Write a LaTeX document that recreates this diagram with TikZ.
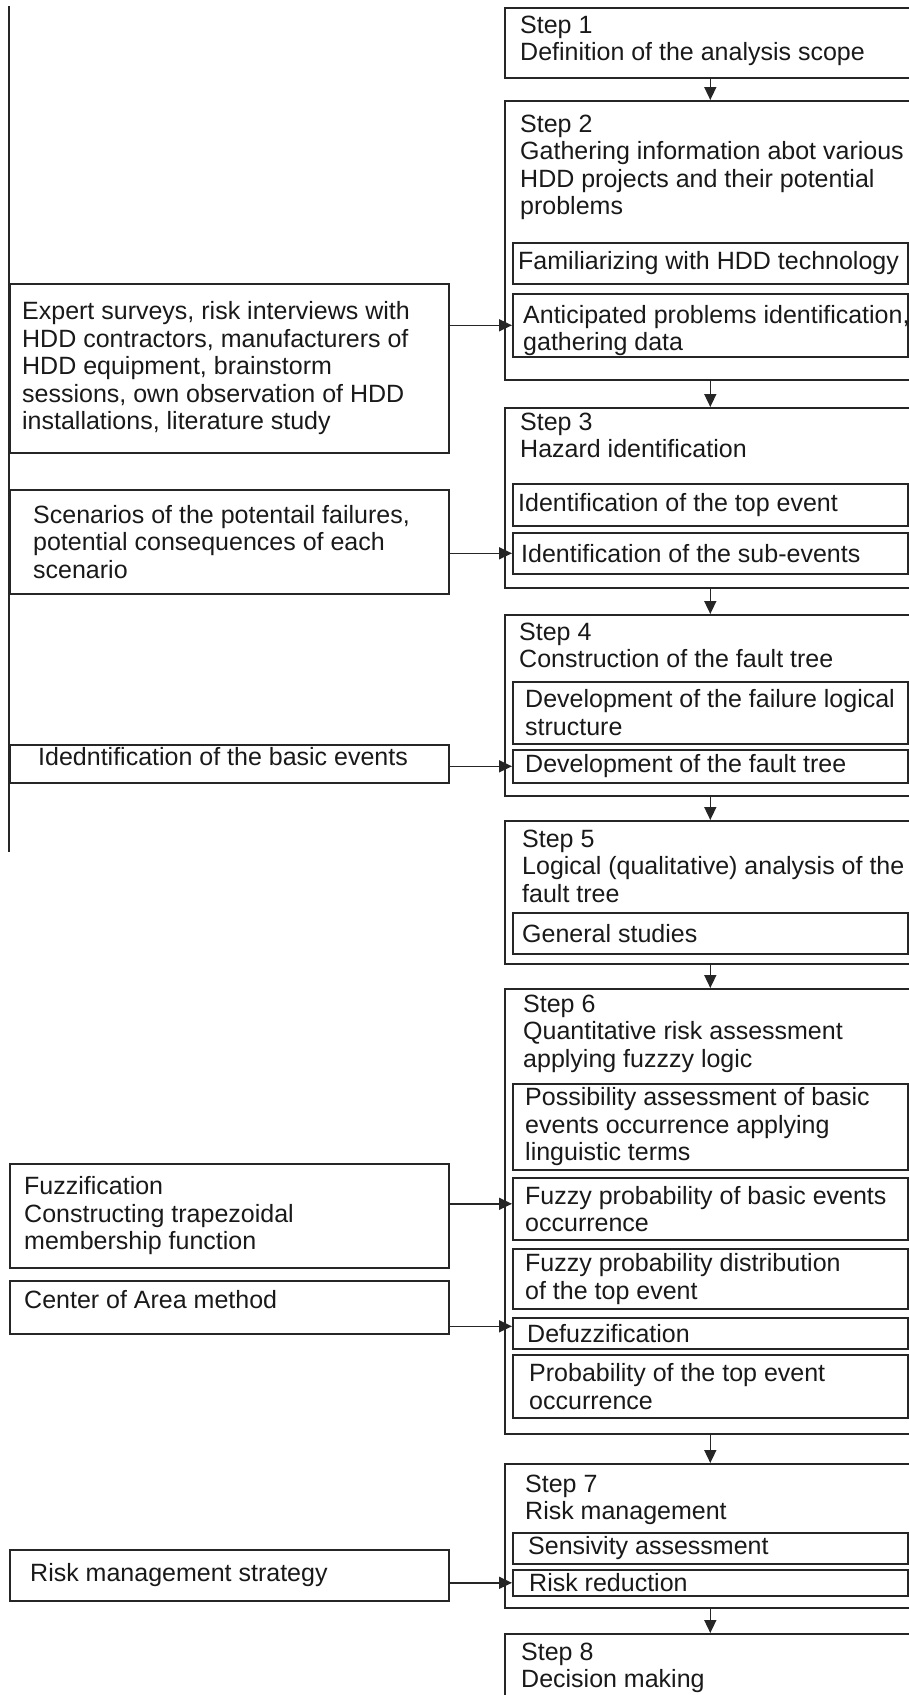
\documentclass[tikz,border=0pt]{standalone}
\usepackage{fontspec}
\setmainfont{Liberation Sans}
\usepackage{tikz}
\usetikzlibrary{arrows.meta,positioning}

\tikzset{
	boxline/.style={line width=1.6pt, draw=black!85},
	stepbox/.style={boxline, anchor=north west, minimum width=411pt, inner sep=0pt},
	subbox/.style={boxline, anchor=north west, minimum width=395pt, inner sep=0pt},
	sidebox/.style={boxline, anchor=north west, minimum width=439pt, inner sep=0pt},
	txt/.style={inner sep=0pt, align=left, text=black!90, font=\fontsize{25}{27.5}\selectfont},
	arr/.style={boxline, -{Triangle[length=13pt,width=12pt]}}
}

\begin{document}
\begin{tikzpicture}[x=1pt,y=-1pt]
		\useasboundingbox (0,0) rectangle (909,1695);
		\clip (0,0) rectangle (909,1695);
		
		% steps
		\node[stepbox, minimum height=70pt]  (step1) at (504,7) {};
		\node[stepbox, minimum height=279pt] (step2) at (504,100) {};
		\node[stepbox, minimum height=180pt] (step3) at (504,407) {};
		\node[stepbox, minimum height=181pt] (step4) at (504,614) {};
		\node[stepbox, minimum height=143pt] (step5) at (504,820) {};
		\node[stepbox, minimum height=445pt] (step6) at (504,988) {};
		\node[stepbox, minimum height=144pt] (step7) at (504,1463) {};
		\node[stepbox, minimum height=100pt] (step8) at (504,1633) {};
		
		\node[txt, below right=8.5pt and 16pt of step1.north west] (head1) {Step 1\\Definition of the analysis scope};
		\node[txt, below right=14.5pt and 16pt of step2.north west] (head2) {Step 2\\Gathering information abot various\\HDD projects and their potential\\problems};
		\node[txt, below right=5.5pt and 16pt of step3.north west] (head3) {Step 3\\Hazard identification};
		\node[txt, below right=8.5pt and 15pt of step4.north west] (head4) {Step 4\\Construction of the fault tree};
		\node[txt, below right=9.5pt and 18pt of step5.north west] (head5) {Step 5\\Logical (qualitative) analysis of the\\fault tree};
		\node[txt, below right=6.5pt and 19pt of step6.north west] (head6) {Step 6\\Quantitative risk assessment\\applying fuzzzy logic};
		\node[txt, below right=11.5pt and 21pt of step7.north west] (head7) {Step 7\\Risk management};
		\node[txt, below right=9.5pt and 17pt of step8.north west] (head8) {Step 8\\Decision making};
		
		% boxes inside the steps
		\node[subbox, minimum height=41pt] (fam)    at (512,242) {};
		\node[subbox, minimum height=63pt] (antic)  at (512,293) {};
		\node[subbox, minimum height=42pt] (topev)  at (512,483) {};
		\node[subbox, minimum height=41pt] (subev)  at (512,532) {};
		\node[subbox, minimum height=62pt] (logic)  at (512,681) {};
		\node[subbox, minimum height=33pt] (ftree)  at (512,749) {};
		\node[subbox, minimum height=41pt] (gen)    at (512,912) {};
		\node[subbox, minimum height=86pt] (poss)   at (512,1083) {};
		\node[subbox, minimum height=62pt] (fprob)  at (512,1177) {};
		\node[subbox, minimum height=60pt] (fdist)  at (512,1248) {};
		\node[subbox, minimum height=31pt] (defuzz) at (512,1317) {};
		\node[subbox, minimum height=63pt] (ptop)   at (512,1354) {};
		\node[subbox, minimum height=31pt] (sens)   at (512,1532) {};
		\node[subbox, minimum height=26pt] (reduc)  at (512,1569) {};
		
		\node[txt, right=6pt of fam.west] (famtxt) {Familiarizing with HDD technology};
		\node[txt, right=11pt of antic.west, yshift=-5pt] (antictxt) {Anticipated problems identification,\\gathering data};
		\node[txt, right=6pt of topev.west] (topevtxt) {Identification of the top event};
		\node[txt, right=9pt of subev.west] (subevtxt) {Identification of the sub-events};
		\node[txt, right=13pt of logic.west] (logictxt) {Development of the failure logical\\structure};
		\node[txt, right=13pt of ftree.west] (ftreetxt) {Development of the fault tree};
		\node[txt, right=10pt of gen.west] (gentxt) {General studies};
		\node[txt, right=13pt of poss.west] (posstxt) {Possibility assessment of basic\\events occurrence applying\\linguistic terms};
		\node[txt, right=13pt of fprob.west] (fprobtxt) {Fuzzy probability of basic events\\occurrence};
		\node[txt, right=13pt of fdist.west] (fdisttxt) {Fuzzy probability distribution\\of the top event};
		\node[txt, right=15pt of defuzz.west] (defuzztxt) {Defuzzification};
		\node[txt, right=17pt of ptop.west] (ptoptxt) {Probability of the top event\\occurrence};
		\node[txt, right=16pt of sens.west] (senstxt) {Sensivity assessment};
		\node[txt, right=17pt of reduc.west] (reductxt) {Risk reduction};
		
		% inputs on the left
		\coordinate (ltop) at (9,6);
		\coordinate (lbot) at (9,852);
		\draw[boxline] (ltop) -- (lbot);
		
		\node[sidebox, minimum height=169pt] (expert) at (9,283) {};
		\node[sidebox, minimum height=104pt] (scen)   at (9,489) {};
		\node[sidebox, minimum height=38pt]  (basic)  at (9,744) {};
		\node[sidebox, minimum height=104pt] (fuzzif) at (9,1163) {};
		\node[sidebox, minimum height=53pt]  (area)   at (9,1280) {};
		\node[sidebox, minimum height=51pt]  (strat)  at (9,1549) {};
		
		\node[txt, right=13pt of expert.west] (experttxt) {Expert surveys, risk interviews with\\HDD contractors, manufacturers of\\HDD equipment, brainstorm\\sessions, own observation of HDD\\installations, literature study};
		\node[txt, right=24pt of scen.west] (scentxt) {Scenarios of the potentail failures,\\potential consequences of each\\scenario};
		\node[txt, right=29pt of basic.west, yshift=7pt] (basictxt) {Idedntification of the basic events};
		\node[txt, right=15pt of fuzzif.west] (fuzziftxt) {Fuzzification\\Constructing trapezoidal\\membership function};
		\node[txt, right=15pt of area.west, yshift=8pt] (areatxt) {Center of Area method};
		\node[txt, right=21pt of strat.west] (strattxt) {Risk management strategy};
		
		% arrows
		\foreach \a/\b in {step1/step2,step2/step3,step3/step4,step4/step5,step5/step6,step6/step7,step7/step8}
		\draw[arr] (\a.south) -- (\b.north);
		\foreach \a/\b/\s in {expert/antic/0,scen/subev/0,basic/ftree/0,fuzzif/fprob/5,area/defuzz/7,strat/reduc/0}
		\draw[arr] ([yshift=\s pt]\b.west -| \a.east) -- ([yshift=\s pt]\b.west);
	\end{tikzpicture}
\end{document}
